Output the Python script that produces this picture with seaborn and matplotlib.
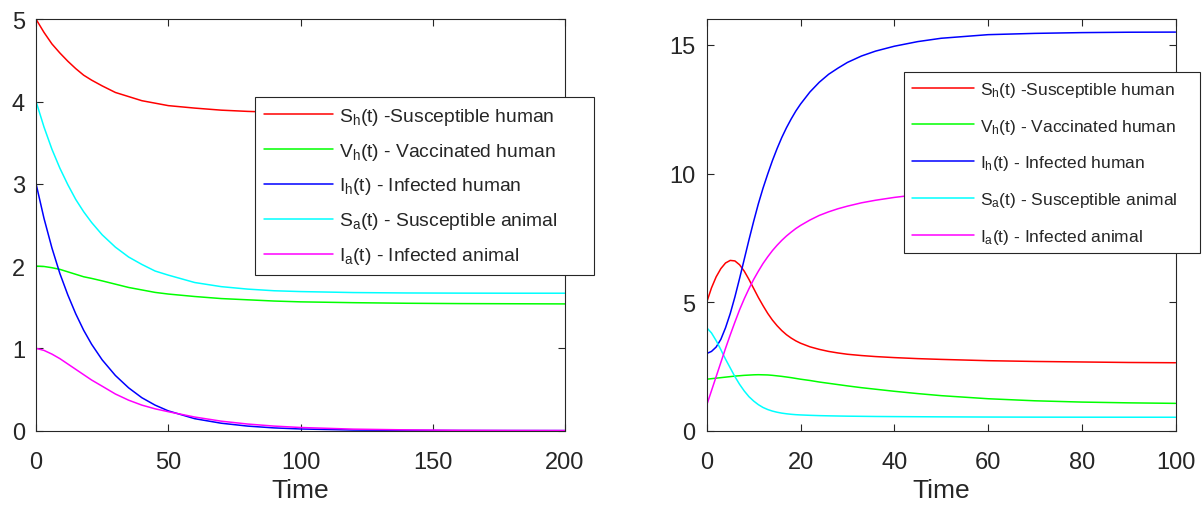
import matplotlib
matplotlib.use("Agg")
import matplotlib.pyplot as plt
import numpy as np
import pandas as pd
import seaborn as sns

# left panel (t = 0..200)
t_left = [0, 3, 6, 9, 12, 15, 18, 21, 25, 30, 35, 40, 45, 50, 60, 70, 80, 90, 100,
          120, 140, 160, 180, 200]
sh_left = [5.00, 4.84, 4.70, 4.59, 4.49, 4.40, 4.32, 4.26, 4.19, 4.11, 4.06, 4.01, 3.98, 3.95,
           3.92, 3.895, 3.88, 3.87, 3.865, 3.86, 3.858, 3.856, 3.855, 3.855]
vh_left = [2.00, 1.995, 1.98, 1.96, 1.93, 1.90, 1.87, 1.85, 1.82, 1.78, 1.74, 1.71, 1.68, 1.66,
           1.63, 1.605, 1.59, 1.575, 1.565, 1.555, 1.548, 1.544, 1.542, 1.54]
ih_left = [3.0, 2.58, 2.22, 1.91, 1.65, 1.42, 1.22, 1.05, 0.86, 0.67, 0.52, 0.40, 0.31, 0.24,
           0.145, 0.09, 0.055, 0.033, 0.02, 0.007, 0.003, 0.001, 0.0005, 0.0002]
sa_left = [4.0, 3.69, 3.42, 3.19, 2.99, 2.81, 2.66, 2.53, 2.38, 2.23, 2.11, 2.02, 1.94, 1.89,
           1.80, 1.75, 1.72, 1.70, 1.69, 1.678, 1.673, 1.671, 1.67, 1.67]
ia_left = [1.0, 0.975, 0.93, 0.875, 0.81, 0.745, 0.68, 0.615, 0.54, 0.445, 0.37, 0.31, 0.265,
           0.23, 0.165, 0.115, 0.08, 0.055, 0.038, 0.018, 0.009, 0.004, 0.002, 0.001]

# right panel (t = 0..100)
t_right = [0, 1, 2, 3, 4, 5, 6, 7, 8, 9, 10, 11, 12, 13, 14, 15, 16, 17, 18, 19, 20,
           22, 24, 26, 28, 30, 33, 36, 40, 45, 50, 60, 70, 80, 90, 100]
sh_right = [5.0, 5.55, 5.98, 6.3, 6.52, 6.62, 6.6, 6.45, 6.2, 5.88, 5.53, 5.18, 4.86, 4.56,
            4.3, 4.08, 3.89, 3.73, 3.6, 3.49, 3.4, 3.26, 3.16, 3.08, 3.02, 2.97, 2.92, 2.88,
            2.84, 2.8, 2.77, 2.72, 2.69, 2.67, 2.65, 2.64]
vh_right = [2.0, 2.02, 2.04, 2.06, 2.08, 2.10, 2.12, 2.135, 2.15, 2.16, 2.17, 2.175, 2.17,
            2.165, 2.15, 2.13, 2.11, 2.085, 2.06, 2.03, 2.0, 1.95, 1.89, 1.84, 1.79, 1.74,
            1.67, 1.61, 1.53, 1.44, 1.36, 1.24, 1.16, 1.11, 1.08, 1.06]
ih_right = [3.0, 3.08, 3.25, 3.55, 4.0, 4.55, 5.2, 5.92, 6.67, 7.42, 8.14, 8.82, 9.43, 9.98,
            10.5, 10.97, 11.4, 11.78, 12.12, 12.43, 12.7, 13.17, 13.55, 13.86, 14.1, 14.32,
            14.57, 14.76, 14.95, 15.13, 15.26, 15.4, 15.45, 15.48, 15.495, 15.5]
sa_right = [4.0, 3.8, 3.5, 3.15, 2.78, 2.44, 2.1, 1.8, 1.54, 1.32, 1.15, 1.01, 0.9, 0.82, 0.76,
            0.715, 0.68, 0.655, 0.635, 0.62, 0.61, 0.595, 0.583, 0.575, 0.568, 0.562, 0.556,
            0.55, 0.545, 0.54, 0.535, 0.528, 0.524, 0.522, 0.521, 0.52]
ia_right = [1.0, 1.55, 2.1, 2.65, 3.2, 3.72, 4.22, 4.7, 5.13, 5.52, 5.88, 6.2, 6.5, 6.76, 7.0,
            7.21, 7.4, 7.57, 7.72, 7.86, 7.98, 8.19, 8.37, 8.51, 8.63, 8.73, 8.86, 8.96, 9.07,
            9.18, 9.28, 9.45, 9.58, 9.68, 9.75, 9.8]

labels = [r'$\mathregular{S_h}$(t) -Susceptible human',
          r'$\mathregular{V_h}$(t) - Vaccinated human',
          r'$\mathregular{I_h}$(t) - Infected human',
          r'$\mathregular{S_a}$(t) - Susceptible animal',
          r'$\mathregular{I_a}$(t) - Infected animal']
colors = ['#ff0000', '#00ff00', '#0000ff', '#00ffff', '#ff00ff']


def make_df(t, series):
    frames = []
    for lab, vals in zip(labels, series):
        frames.append(pd.DataFrame({'Time': t, 'value': vals, 'var': lab}))
    return pd.concat(frames, ignore_index=True)


df_left = make_df(t_left, [sh_left, vh_left, ih_left, sa_left, ia_left])
df_right = make_df(t_right, [sh_right, vh_right, ih_right, sa_right, ia_right])

sns.set_style('ticks')
plt.rcParams['font.family'] = ['Liberation Sans', 'DejaVu Sans']
plt.rcParams['mathtext.fontset'] = 'custom'
plt.rcParams['mathtext.rm'] = 'Liberation Sans'

fig = plt.figure(figsize=(12.02, 5.06), dpi=100)
ax1 = fig.add_axes([0.030, 0.147, 0.440, 0.813])
ax2 = fig.add_axes([0.588, 0.147, 0.390, 0.813])


def style_axes(ax, xlim, ylim, xticks, yticks):
    ax.set_xlim(*xlim)
    ax.set_ylim(*ylim)
    ax.set_xticks(xticks)
    ax.set_yticks(yticks)
    for s in ax.spines.values():
        s.set_visible(True)
        s.set_color('#262626')
        s.set_linewidth(0.8)
    ax.tick_params(direction='in', top=True, right=True, length=5, width=0.8,
                   color='#262626', labelcolor='#262626', labelsize=17)
    ax.tick_params(axis='x', pad=15)
    ax.tick_params(axis='y', pad=8)
    ax.set_xlabel('Time', fontsize=19, color='#262626', labelpad=3)
    ax.set_ylabel('')
    ax.grid(False)


sns.lineplot(data=df_left, x='Time', y='value', hue='var', hue_order=labels,
             palette=colors, linewidth=1.1, ax=ax1, sort=False)
sns.lineplot(data=df_right, x='Time', y='value', hue='var', hue_order=labels,
             palette=colors, linewidth=1.1, ax=ax2, sort=False)

style_axes(ax1, (0, 200), (0, 5), [0, 50, 100, 150, 200], [0, 1, 2, 3, 4, 5])
style_axes(ax2, (0, 100), (0, 16), [0, 20, 40, 60, 80, 100], [0, 5, 10, 15])

# legend boxes: (left, top, width) in pixels
for ax, box, fs, sp in [(ax1, (255, 98, 339), 13.9, 0.72),
                        (ax2, (904, 73, 296), 12.5, 1.02)]:
    h, l = ax.get_legend_handles_labels()
    x0, top, w = box
    leg = ax.legend(h, l, loc='upper left',
                    bbox_to_anchor=(x0 / 1202, 1 - top / 506, w / 1202, 0),
                    bbox_transform=fig.transFigure, mode='expand', fontsize=fs,
                    frameon=True, fancybox=False, edgecolor='#262626', framealpha=1,
                    handlelength=3.6, handletextpad=0.3, labelspacing=sp,
                    borderpad=0.45, borderaxespad=0)
    leg.get_frame().set_linewidth(0.8)
    for line in leg.get_lines():
        line.set_linewidth(1.1)

fig.savefig('out.png', dpi=100)
